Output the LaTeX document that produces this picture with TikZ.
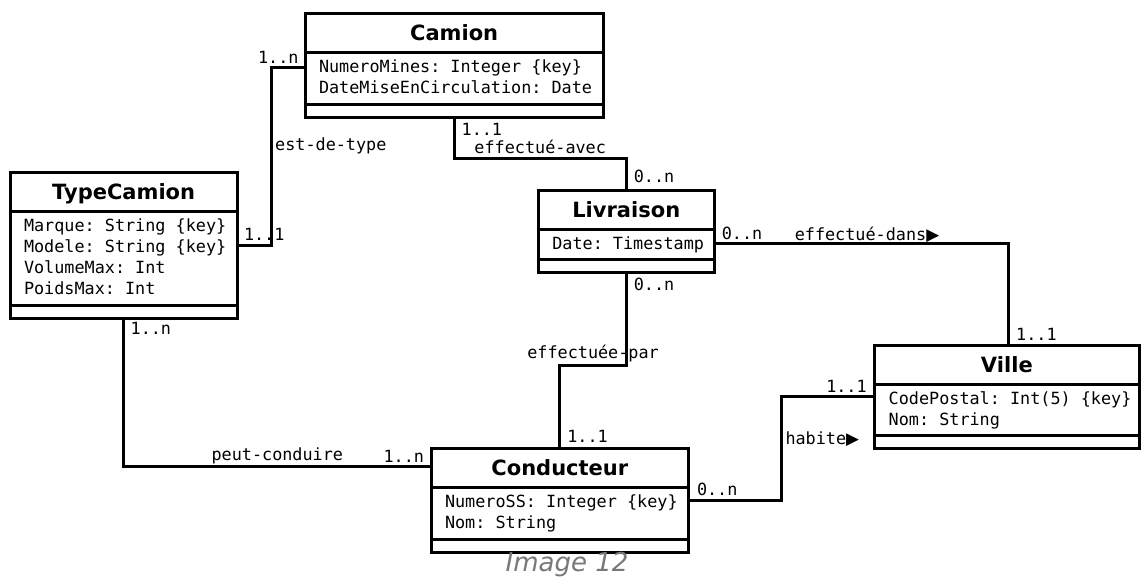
\documentclass[tikz,border=0pt]{standalone}
\usepackage{fontspec}
\usetikzlibrary{shapes.multipart}
\newfontfamily\monofont{DejaVu Sans Mono}
\newfontfamily\dejavu{DejaVu Sans}[BoldFont={DejaVu Sans Bold},ItalicFont={DejaVu Sans Oblique}]
\definecolor{captiongray}{RGB}{120,120,120}
\newcommand{\classtitle}[1]{\noindent\makebox[\hsize]{\rule[-5pt]{0pt}{26pt}\dejavu\bfseries\fontsize{21}{21}\selectfont #1}}
\newcommand{\attrline}[1]{\mbox{\spaceskip=0pt\xspaceskip=0pt\frenchspacing\rule[-4pt]{0pt}{17.8pt}#1}}
\begin{document}
\begin{tikzpicture}[x=1pt,y=-1pt,
    umlclass/.style={rectangle split,rectangle split parts=3,draw,line width=3pt,
      rectangle split empty part height=0pt,rectangle split empty part depth=0pt,
      inner xsep=14pt,inner ysep=5pt,outer sep=0pt,anchor=north west,align=left,
      font=\monofont\fontsize{16.8}{21}\selectfont},
    mult/.style={font=\monofont\fontsize{16.8}{21}\selectfont,inner sep=0pt},
    assoc/.style={line width=3pt}]
  \useasboundingbox (0,0) rectangle (1141,576);
  % classes
  \node[umlclass,text width=270.3pt] (camion) at (305,13.3) {\classtitle{Camion}%
    \nodepart{two}\attrline{NumeroMines: Integer \{key\}}\\\attrline{DateMiseEnCirculation: Date}%
    \nodepart{three}};
  \node[umlclass,text width=199.3pt] (typecamion) at (10,172.3) {\classtitle{TypeCamion}%
    \nodepart{two}\attrline{Marque: String \{key\}}\\\attrline{Modele: String \{key\}}\\%
    \attrline{VolumeMax: Int}\\\attrline{PoidsMax: Int}%
    \nodepart{three}};
  \node[umlclass,text width=148pt] (livraison) at (538.3,190) {\classtitle{Livraison}%
    \nodepart{two}\attrline{Date: Timestamp}%
    \nodepart{three}};
  \node[umlclass,text width=236.3pt] (ville) at (874.7,345) {\classtitle{Ville}%
    \nodepart{two}\attrline{CodePostal: Int(5) \{key\}}\\\attrline{Nom: String}%
    \nodepart{three}};
  \node[umlclass,text width=229.7pt] (conducteur) at (431,448.3) {\classtitle{Conducteur}%
    \nodepart{two}\attrline{NumeroSS: Integer \{key\}}\\\attrline{Nom: String}%
    \nodepart{three}};
  % associations
  \draw[assoc] ([yshift=-2.6pt]camion.west) node[mult,anchor=base east,xshift=-5pt,yshift=4.5pt] (m1) {1..n}
    -- ++(-33.3,0) |- node[mult,pos=0.25,anchor=base west,xshift=2pt,yshift=6pt] (a1) {est-de-type} (typecamion.east)
    node[mult,anchor=base west,xshift=5.2pt,yshift=4.7pt] (m2) {1..1};
  \draw[assoc] (camion.south) node[mult,anchor=base west,xshift=6pt,yshift=-17.9pt] (m3) {1..1}
    -- ++(0,40.9) -| node[mult,pos=0.25,anchor=base,yshift=5pt] (a2) {effectué-avec} (livraison.north)
    node[mult,anchor=base west,xshift=6pt,yshift=7.2pt] (m4) {0..n};
  \draw[assoc] ([yshift=-12.1pt]livraison.east) node[mult,anchor=base west,xshift=6pt,yshift=3.6pt] (m5) {0..n}
    -| node[mult,pos=0.25,anchor=base,xshift=5.5pt,yshift=3.5pt] (a3) {effectué-dans{\dejavu ▶}} ([xshift=1.8pt]ville.north)
    node[mult,anchor=base west,xshift=6pt,yshift=4.6pt] (m6) {1..1};
  \draw[assoc] (livraison.south) node[mult,anchor=base west,xshift=6pt,yshift=-17.2pt] (m7) {0..n}
    -- ++(0,92.2) -| node[mult,pos=0.25,anchor=base,yshift=6.7pt] (a4) {effectuée-par} (conducteur.north)
    node[mult,anchor=base west,xshift=6pt,yshift=6.3pt] (m8) {1..1};
  \draw[assoc] (typecamion.south) node[mult,anchor=base west,xshift=5.5pt,yshift=-16.3pt] (m9) {1..n}
    |- node[mult,pos=0.75,anchor=base,yshift=6pt] (a5) {peut-conduire} ([yshift=-18pt]conducteur.north west)
    node[mult,anchor=base east,xshift=-5.5pt,yshift=4.3pt] (m10) {1..n};
  \draw[assoc] (conducteur.east) node[mult,anchor=base west,xshift=6.8pt,yshift=4.3pt] (m11) {0..n}
    -- ++(93,0) |- node[mult,pos=0.25,anchor=base west,xshift=2.3pt,yshift=4.4pt] (a6) {habite{\dejavu ▶}} (ville.west)
    node[mult,anchor=base east,xshift=-6.5pt,yshift=4.4pt] (m12) {1..1};
  % caption
  \node[font=\dejavu\itshape\fontsize{26}{26}\selectfont,text=captiongray,anchor=base,inner sep=0pt] (caption) at (567,571) {Image 12};
\end{tikzpicture}
\end{document}
